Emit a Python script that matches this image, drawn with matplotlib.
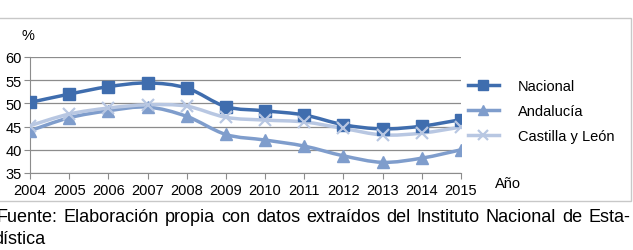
import numpy as np
import matplotlib.pyplot as plt
from matplotlib.path import Path
from matplotlib.patches import PathPatch, Rectangle
from matplotlib.lines import Line2D

plt.rcParams['font.family'] = ['Liberation Sans', 'DejaVu Sans']

anios = [2004, 2005, 2006, 2007, 2008, 2009, 2010, 2011, 2012, 2013, 2014, 2015]
nacional = [50.2, 52.0, 53.6, 54.4, 53.3, 49.3, 48.4, 47.5, 45.4, 44.5, 45.1, 46.5]
andalucia = [44.1, 46.9, 48.4, 49.2, 47.2, 43.3, 42.1, 40.8, 38.7, 37.3, 38.2, 40.0]
castilla = [45.2, 47.7, 49.0, 49.7, 49.4, 47.0, 46.4, 46.0, 44.6, 43.2, 43.6, 44.9]
etiquetas = ['Nacional', 'Andalucía', 'Castilla y León']
colores = ['#3F6DAE', '#7F9DCC', '#B8C7E2']
marcadores = ['s', '^', 'x']
texto_fuente = ('Fuente: Elaboración propia con datos extraídos del Instituto '
                'Nacional de Esta-')
texto_fuente2 = 'dística'


def curva_suave(x, y):
    # trazo suavizado tipo Excel (Catmull-Rom a Bezier)
    p = np.column_stack([x, y]).astype(float)
    verts = [p[0]]
    codes = [Path.MOVETO]
    n = len(p)
    for i in range(n - 1):
        p0 = p[i - 1] if i > 0 else p[i]
        p1 = p[i]
        p2 = p[i + 1]
        p3 = p[i + 2] if i + 2 < n else p[i + 1]
        c1 = p1 + (p2 - p0) / 6
        c2 = p2 - (p3 - p1) / 6
        verts += [c1, c2, p2]
        codes += [Path.CURVE4] * 3
    return Path(verts, codes)


fig = plt.figure(figsize=(6.33, 2.51), dpi=100)
fig.patches.append(Rectangle((-0.01, 0.195), 1.007, 0.729, transform=fig.transFigure,
                             fill=False, edgecolor='#C8C8C8', lw=1.0))

ax = fig.add_axes([30 / 633, 0.3068, 431 / 633, 0.4622])
x = np.arange(len(anios))
series = [nacional, andalucia, castilla]
handles = []
for s, c, m, lab in zip(series, colores, marcadores, etiquetas):
    ax.add_patch(PathPatch(curva_suave(x, s), fill=False, edgecolor=c, lw=2.5,
                           capstyle='round', joinstyle='round', zorder=3))
    if m == 'x':
        ax.plot(x, s, ls='none', marker=m, ms=8, mew=1.6, color=c, zorder=4)
    else:
        ax.plot(x, s, ls='none', marker=m, ms=8.5, color=c, zorder=4)
    handles.append(Line2D([], [], color=c, lw=2.5, marker=m, ms=7,
                          mew=1.6 if m == 'x' else 1.0))

ax.set_xlim(0, len(anios) - 1)
ax.set_ylim(35, 60)
ax.set_yticks(range(35, 61, 5))
ax.set_xticks(x)
ax.set_xticklabels([str(a) for a in anios])
ax.yaxis.grid(True, color='#8C8C8C', lw=0.9)
ax.set_axisbelow(True)
for sp in ['top', 'right']:
    ax.spines[sp].set_visible(False)
ax.spines['left'].set_color('#8C8C8C')
ax.spines['bottom'].set_color('#8C8C8C')
ax.tick_params(axis='x', length=4, color='#8C8C8C', labelsize=10.5, pad=3)
ax.tick_params(axis='y', length=4, color='#8C8C8C', labelsize=10.5, pad=2)

fig.text(22 / 633, 1 - 36 / 251, '%', fontsize=10.5, va='center')
fig.text(495 / 633, 1 - 184 / 251, 'Año', fontsize=10.5, va='center')

fig.legend(handles, etiquetas, loc='upper left', bbox_to_anchor=(468 / 633, 1 - 80 / 251),
           frameon=False, fontsize=10.5, handlelength=2.1, handletextpad=1.3,
           labelspacing=0.75, borderpad=0, borderaxespad=0)

# texto de fuente justificado
tam = 13
palabras = texto_fuente.split(' ')
fig.canvas.draw()
rend = fig.canvas.get_renderer()
tmp = [fig.text(0, 0, w, fontsize=tam) for w in palabras]
anchos = [t.get_window_extent(rend).width for t in tmp]
for t in tmp:
    t.remove()
x0, x1 = -3, 630
hueco = (x1 - x0 - sum(anchos)) / (len(palabras) - 1)
pos = x0
for w, a in zip(palabras, anchos):
    fig.text(pos / 633, 1 - 218 / 251, w, fontsize=tam, va='center')
    pos += a + hueco
fig.text(-7 / 633, 1 - 240 / 251, texto_fuente2, fontsize=tam, va='center')

fig.savefig('out.png', dpi=100)
